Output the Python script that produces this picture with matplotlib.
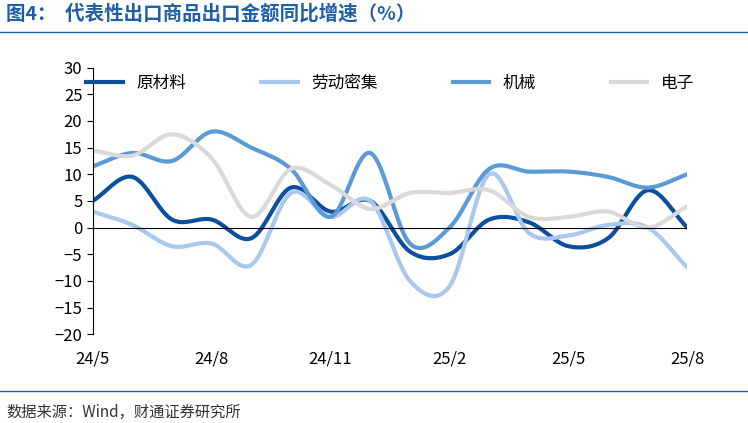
import matplotlib.pyplot as plt
import numpy as np

plt.rcParams['font.family'] = ['Noto Sans CJK SC', 'DejaVu Sans']

months = ['24/5', '24/6', '24/7', '24/8', '24/9', '24/10', '24/11', '24/12',
          '25/1', '25/2', '25/3', '25/4', '25/5', '25/6', '25/7', '25/8']
raw = [5, 9.5, 1.5, 1.5, -2, 7.5, 3, 5, -4.5, -5, 1.5, 1, -3.5, -2, 7, 0]
labor = [3, 0.5, -3.5, -3, -7, 6.5, 2, 5, -10, -11, 10, -1, -1.5, 0.5, 0, -7.5]
machine = [11.5, 14, 12.5, 18, 15, 11, 2, 14, -3, 0, 11, 10.5, 10.5, 9.5, 7.5, 10]
electronic = [14.5, 13.5, 17.5, 13, 2, 11, 8, 3.5, 6.5, 6.5, 7, 2, 2, 3, 0, 4]

series = [('原材料', raw, '#0b4f9e'), ('劳动密集', labor, '#a8c8ee'),
          ('机械', machine, '#5b9ad5'), ('电子', electronic, '#d9d9d9')]


def smooth(y, n=20):
    # Catmull-Rom through the points
    y = np.asarray(y, float)
    p = np.concatenate([[2 * y[0] - y[1]], y, [2 * y[-1] - y[-2]]])
    xs, ys = [], []
    t = np.linspace(0, 1, n, endpoint=False)
    for i in range(1, len(p) - 2):
        p0, p1, p2, p3 = p[i - 1], p[i], p[i + 1], p[i + 2]
        v = 0.5 * (2 * p1 + (-p0 + p2) * t + (2 * p0 - 5 * p1 + 4 * p2 - p3) * t ** 2
                   + (-p0 + 3 * p1 - 3 * p2 + p3) * t ** 3)
        xs.extend(i - 1 + t)
        ys.extend(v)
    xs.append(len(y) - 1)
    ys.append(y[-1])
    return np.array(xs), np.array(ys)


fig = plt.figure(figsize=(7.48, 4.23), dpi=100)
ax = fig.add_axes([0.124, 0.21, 0.795, 0.63])
for name, vals, c in series:
    xs, ys = smooth(vals)
    ax.plot(xs, ys, color=c, lw=3, label=name)

ax.set_xlim(0, 15)
ax.set_ylim(-20, 30)
ax.set_yticks(range(-20, 31, 5))
ax.set_xticks(range(0, 16, 3))
ax.set_xticklabels(months[::3])
ax.tick_params(labelsize=12, length=0)
ax.tick_params(axis='x', pad=12)
ax.tick_params(axis='y', length=4, direction='out')
for s in ['top', 'right', 'bottom']:
    ax.spines[s].set_visible(False)
ax.axhline(0, color='black', lw=0.8)
ax.legend(loc='upper center', bbox_to_anchor=(0.5, 1.03), ncol=4, frameon=False,
          fontsize=12, handlelength=2.2, columnspacing=4.5)

fig.text(0.008, 0.955, '图4：  代表性出口商品出口金额同比增速（%）', fontsize=14,
         color='#1f5fa8', fontweight='bold')
fig.add_artist(plt.Line2D([0.0, 1.0], [0.925, 0.925], color='#1f5fa8', lw=1))
fig.add_artist(plt.Line2D([0.0, 1.0], [0.075, 0.075], color='#1f5fa8', lw=1))
fig.text(0.008, 0.015, '数据来源：Wind，财通证券研究所', fontsize=11, color='#333333')

fig.savefig('out.png')
